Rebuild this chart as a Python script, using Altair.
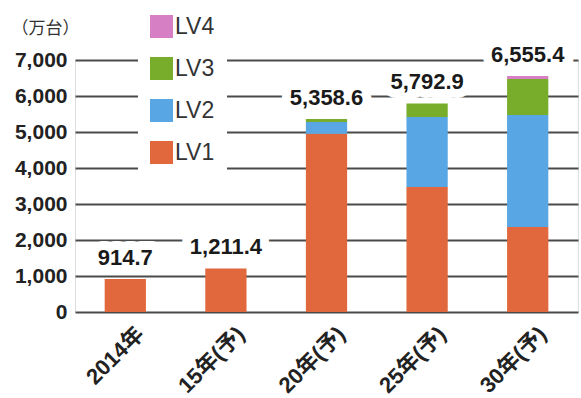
import altair as alt
import pandas as pd

categories = ["2014年", "15年(予)", "20年(予)", "25年(予)", "30年(予)"]
lv1 = [914.7, 1211.4, 4950, 3470, 2360]
lv2 = [0, 0, 330, 1950, 3110]
lv3 = [0, 0, 78.6, 372.9, 1000]
lv4 = [0, 0, 0, 0, 85.4]
totals = [914.7, 1211.4, 5358.6, 5792.9, 6555.4]
total_labels = ["914.7", "1,211.4", "5,358.6", "5,792.9", "6,555.4"]
levels = ["LV1", "LV2", "LV3", "LV4"]
colors = ["#E0683C", "#58A6E4", "#77AD2B", "#D77FC4"]
y_ticks = [0, 1000, 2000, 3000, 4000, 5000, 6000, 7000]

rows = []
for i, c in enumerate(categories):
    for k, (lv, vals) in enumerate(zip(levels, [lv1, lv2, lv3, lv4])):
        rows.append({"cat": c, "level": lv, "order": k, "value": vals[i]})
df = pd.DataFrame(rows)
tot = pd.DataFrame({"cat": categories, "total": totals, "label": total_labels})

NUMFONT = "Liberation Sans, Noto Sans CJK JP"

xscale = alt.Scale(paddingInner=0.59, paddingOuter=0.295)
yscale = alt.Scale(domain=[0, 7000], nice=False)

xaxis = alt.Axis(title=None, labelAngle=315, labelFont=NUMFONT, labelFontSize=22,
                 labelFontWeight="bold", labelColor="#222", domain=False, ticks=False,
                 labelPadding=11, labelOffset=8, grid=False, labelOverlap=False)
yaxis = alt.Axis(values=y_ticks, labelExpr="format(datum.value, ',')",
                 labelFont=NUMFONT, labelFontSize=21, labelFontWeight="bold",
                 labelColor="#222", domain=False, ticks=False, labelPadding=8,
                 labelOverlap=False,
                 gridColor="#4a4a4a", gridWidth=2, gridOpacity=1,
                 title="（万台）", titleAngle=0, titleX=-30, titleY=-32,
                 titleAlign="center", titleBaseline="middle", titleFont="Noto Sans CJK JP",
                 titleFontSize=17, titleFontWeight="normal", titleColor="#333")

leg_domain = ["LV4", "LV3", "LV2", "LV1"]
leg_range = [colors[3], colors[2], colors[1], colors[0]]

bars = alt.Chart(df).mark_bar().encode(
    x=alt.X("cat:N", sort=categories, scale=xscale, axis=xaxis),
    y=alt.Y("value:Q", stack="zero", scale=yscale, axis=yaxis),
    color=alt.Color("level:N", scale=alt.Scale(domain=leg_domain, range=leg_range),
                    legend=alt.Legend(title=None, orient="none", legendX=63, legendY=-57,
                                      symbolType="square", symbolSize=529, symbolStrokeWidth=0,
                                      symbolOpacity=1, labelFont="Liberation Sans", labelFontSize=23,
                                      labelColor="#333", rowPadding=18, labelOffset=2,
                                      fillColor="white", padding=12)),
    order=alt.Order("order:Q"),
)

tx = alt.X("cat:N", sort=categories, scale=xscale, axis=xaxis)
ty = alt.Y("total:Q", scale=yscale, axis=yaxis)

halo = alt.Chart(tot).mark_text(dy=-21, baseline="middle", font=NUMFONT, fontSize=22,
                                fontWeight="bold", stroke="white", strokeWidth=18,
                                strokeJoin="round", fill="white").encode(
    x=tx, y=ty, text="label:N")

labels = alt.Chart(tot).mark_text(dy=-21, baseline="middle", font=NUMFONT, fontSize=22,
                                  fontWeight="bold", color="#1a1a1a").encode(
    x=tx, y=ty, text="label:N")

chart = alt.layer(halo, bars, labels).properties(
    width=503, height=252,
    autosize=alt.AutoSizeParams(type="none"),
    padding={"left": 75, "top": 60, "right": 3, "bottom": 86},
).configure_view(strokeWidth=0).configure(background="white")

chart.save("out.html", embed_options={"renderer": "svg", "actions": False})
